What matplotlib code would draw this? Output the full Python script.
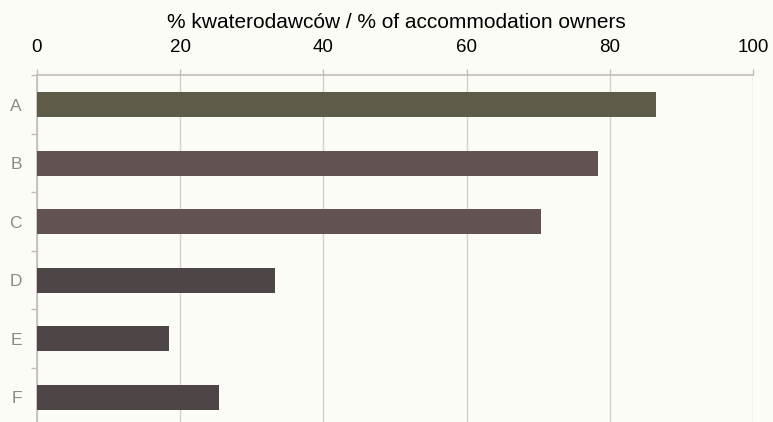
import matplotlib.pyplot as plt
import numpy as np

# share of accommodation owners per answer
categories = ['A', 'B', 'C', 'D', 'E', 'F']
values = [86.4, 78.4, 70.4, 33.3, 18.4, 25.4]
bar_colors = ['#5e5b48', '#625251', '#625251', '#4e4646', '#4e4646', '#4e4646']
x_ticks = [0, 20, 40, 60, 80, 100]

plt.rcParams['font.family'] = ['Liberation Sans', 'DejaVu Sans']

bg = '#fcfcf7'
grid_col = '#d6cfcf'

fig = plt.figure(figsize=(7.73, 4.22), dpi=100, facecolor=bg)
ax = fig.add_axes([37 / 773, 1 - 426.5 / 422, 716 / 773, 351 / 422])
ax.set_facecolor(bg)

pos = np.arange(len(categories))
ax.barh(pos, values, height=0.42, color=bar_colors, zorder=3)

ax.set_xlim(0, 100)
ax.set_ylim(len(categories) - 0.5, -0.5)

# x axis on top
ax.xaxis.set_ticks_position('top')
ax.set_xticks(x_ticks)
ax.set_xticklabels([str(t) for t in x_ticks], fontsize=13.5, color='black')
ax.tick_params(axis='x', length=4, width=1, color='#c4bcbc', pad=10)
ax.xaxis.grid(True, color=grid_col, linewidth=1, zorder=0)

# category labels, ticks between categories
ax.set_yticks(pos)
ax.set_yticklabels(categories, fontsize=12.5, color='#8a8a8a')
ax.set_yticks(np.arange(-0.5, len(categories), 1), minor=True)
ax.tick_params(axis='y', which='major', length=0, pad=11)
ax.tick_params(axis='y', which='minor', length=4, width=1, color='#c4bcbc')

for side in ['right', 'bottom']:
    ax.spines[side].set_visible(False)
ax.spines['top'].set_color('#c4bcbc')
ax.spines['left'].set_color('#c4bcbc')
ax.spines['top'].set_linewidth(1.2)
ax.spines['left'].set_linewidth(1.2)

fig.text(396 / 773, 1 - 22 / 422, '% kwaterodawców / % of accommodation owners',
         ha='center', va='center', fontsize=15, color='black')

fig.savefig('out.png', dpi=100, facecolor=bg)
